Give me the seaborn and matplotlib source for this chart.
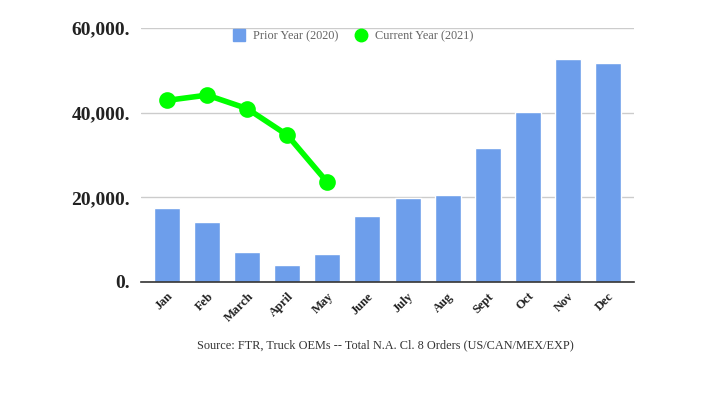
import pandas as pd
import matplotlib.pyplot as plt
import seaborn as sns
from matplotlib.lines import Line2D
from matplotlib.ticker import FuncFormatter

# data
months = ['Jan', 'Feb', 'March', 'April', 'May', 'June', 'July', 'Aug',
          'Sept', 'Oct', 'Nov', 'Dec']
prior_year = [17400, 14100, 7000, 3950, 6550, 15500, 19850, 20450,
              31550, 40150, 52600, 51650]
current_months = ['Jan', 'Feb', 'March', 'April', 'May']
current_year = [42900, 44150, 40950, 34700, 23550]

bar_color = '#6d9eeb'
line_color = '#00ff00'

df_prior = pd.DataFrame({'month': months, 'orders': prior_year})
df_cur = pd.DataFrame({'month': current_months, 'orders': current_year})

sns.set_style('white')
plt.rcParams['font.family'] = ['Liberation Serif', 'DejaVu Serif']

fig = plt.figure(figsize=(7.11, 3.99), dpi=100)
ax = fig.add_axes([141 / 711, 1 - 282 / 399, (634 - 141) / 711, (282 - 28) / 399])

sns.barplot(data=df_prior, x='month', y='orders', order=months, color=bar_color,
            width=0.65, saturation=1, ax=ax, zorder=2)
sns.pointplot(data=df_cur, x='month', y='orders', order=months, color=line_color,
              markersize=9, linewidth=4, ax=ax, zorder=3)

ax.set_ylim(0, 60000)
ax.set_xlim(-0.65, 11.65)
ax.set_yticks([0, 20000, 40000, 60000])
ax.yaxis.set_major_formatter(FuncFormatter(lambda v, p: f'{int(v):,}.'))
ax.grid(axis='y', color='#cccccc', linewidth=1, zorder=0)
ax.set_axisbelow(True)
for s in ['left', 'right', 'top']:
    ax.spines[s].set_visible(False)
ax.spines['bottom'].set_color('#333333')
ax.spines['bottom'].set_linewidth(1.2)
ax.tick_params(axis='y', length=0, pad=8, labelsize=14, labelcolor='#222222')
ax.tick_params(axis='x', length=0, pad=6, labelsize=9, labelcolor='#222222')
for lbl in ax.get_yticklabels():
    lbl.set_fontweight('bold')
for lbl in ax.get_xticklabels():
    lbl.set_fontweight('bold')
    lbl.set_rotation(45)
    lbl.set_ha('right')
    lbl.set_rotation_mode('anchor')
ax.set_xlabel('')
ax.set_ylabel('')

handles = [
    Line2D([], [], marker='s', linestyle='', markersize=9, color=bar_color),
    Line2D([], [], marker='o', linestyle='', markersize=9, color=line_color),
]
ax.legend(handles, ['Prior Year (2020)', 'Current Year (2021)'], ncol=2,
          loc='center left', bbox_to_anchor=((233 - 141) / 493, 1 - 8 / 254),
          frameon=False, fontsize=8.8, labelcolor='#666666', handlelength=1.0,
          handletextpad=0.6, columnspacing=1.4, borderpad=0, borderaxespad=0)

fig.text(385 / 711, 1 - 345 / 399,
         'Source: FTR, Truck OEMs -- Total N.A. Cl. 8 Orders (US/CAN/MEX/EXP)',
         ha='center', va='center', fontsize=8.8, color='#333333')

fig.savefig('out.png', dpi=100)
